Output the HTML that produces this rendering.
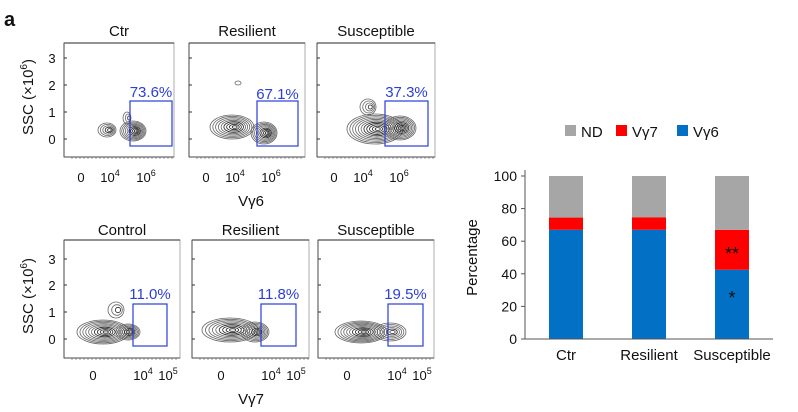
<!DOCTYPE html>
<html><head><meta charset="utf-8"><style>
html,body{margin:0;padding:0;background:#fff;width:798px;height:412px;overflow:hidden}
svg{display:block;font-family:"Liberation Sans",sans-serif}
</style></head><body>
<svg id="fig" width="798" height="412" viewBox="0 0 798 412">
<text x="4" y="26" font-size="20" font-weight="bold" fill="#111">a</text>
<g id="flow"></g>
<g id="bars"></g>
</svg>
<script>
// Stacked bar chart data
const categories = ["Ctr", "Resilient", "Susceptible"];
const vg6Values = [67, 67, 42.5];
const vg7Values = [7.5, 7.7, 24.5];
const ndValues = [25.5, 25.3, 33];
const yTicks = [0, 20, 40, 60, 80, 100];

const NS = "http://www.w3.org/2000/svg";
function mk(tag, attrs, parent, text){
  const e = document.createElementNS(NS, tag);
  for (const k in attrs) e.setAttribute(k, attrs[k]);
  if (text !== undefined) e.textContent = text;
  parent.appendChild(e);
  return e;
}

// ---------- Flow plots ----------
const flow = document.getElementById("flow");
const rows = [
  {top:43,bottom:157,title:30,tickY:182,axisLabel:"Vγ6",axisY:206,yt:[58,85,112,139],
   panels:[
    {x0:64,x1:174,title:"Ctr",gate:[130,101,172,146],pct:"73.6%",py:97,
     blobs:[[107,130,9,7,5],[133,131,13,10,9],[127,118,4,6,3]]},
    {x0:189,x1:305,title:"Resilient",gate:[257,101,298,146],pct:"67.1%",py:99,
     blobs:[[232,127,22,12,9],[264,133,13,11,9],[238,83,3,2,1]]},
    {x0:317,x1:435,title:"Susceptible",gate:[385,101,428,146],pct:"37.3%",py:97,
     blobs:[[375,129,28,15,11],[400,128,16,12,9],[368,107,8,8,4]]}
   ],
   ticks:[[81,"0",""],[110,"10","4"],[146,"10","6"]]},
  {top:240,bottom:358,title:229,tickY:380,axisLabel:"Vγ7",axisY:404,yt:[259,285,312,339],
   panels:[
    {x0:64,x1:180,title:"Control",gate:[133,304,167,346],pct:"11.0%",py:299,
     blobs:[[103,332,26,12,10],[128,332,12,8,7],[116,310,8,8,3]]},
    {x0:192,x1:309,title:"Resilient",gate:[261,304,296,346],pct:"11.8%",py:299,
     blobs:[[230,330,28,12,9],[255,332,14,10,8]]},
    {x0:318,x1:434,title:"Susceptible",gate:[388,304,423,346],pct:"19.5%",py:299,
     blobs:[[361,332,26,11,10],[390,332,16,9,6]]}
   ],
   ticks:[[93,"0",""],[143,"10","4"],[168,"10","5"]]}
];
rows.forEach((r,ri)=>{
  r.panels.forEach((p,pi)=>{
    const g = mk("g",{},flow);
    
    
    mk("rect",{x:p.x0,y:r.top,width:p.x1-p.x0,height:r.bottom-r.top,fill:"#fff",stroke:"#bbb","stroke-width":1.2},g);
    mk("line",{x1:p.x0,y1:r.top,x2:p.x1,y2:r.top,stroke:"#333","stroke-width":1},g);
    mk("line",{x1:p.x0,y1:r.top,x2:p.x0,y2:r.bottom,stroke:"#555","stroke-width":1},g);
    mk("line",{x1:p.x0,y1:r.bottom,x2:p.x1,y2:r.bottom,stroke:"#555","stroke-width":1},g);
    const t = mk("text",{x:(p.x0+p.x1)/2,y:r.title+6,"font-size":15,"text-anchor":"middle",fill:"#111"},g,p.title);
    
    
    r.yt.forEach(y=>mk("line",{x1:p.x0,y1:y,x2:p.x0+3,y2:y,stroke:"#333"},g));
    for(let x=p.x0+8;x<p.x1;x+=4) mk("line",{x1:x,y1:r.bottom,x2:x,y2:r.bottom+2,stroke:"#555","stroke-width":0.6},g);
    p.blobs.forEach(b=>{
      for(let k=0;k<b[4];k++){
        const f=1-k/b[4];
        mk("ellipse",{cx:b[0]+(1-f)*3,cy:b[1],rx:Math.max(1,b[2]*f),ry:Math.max(1,b[3]*f),fill:"none",stroke:k>b[4]*0.5?"#222":"#666","stroke-width":0.8},g);
      }
    });
    const gate = mk("rect",{x:p.gate[0],y:p.gate[1],width:p.gate[2]-p.gate[0],height:p.gate[3]-p.gate[1],fill:"none",stroke:"#2a3ed8","stroke-width":1.2},g);
    
    
    const pc = mk("text",{x:(p.gate[0]+p.gate[2])/2,y:p.py,"font-size":15,"text-anchor":"middle",fill:"#2a3ed8"},g,p.pct);
    
    
    r.ticks.forEach(tk=>{
      const xt = p.x0 + (tk[0]-64);
      const tt = mk("text",{x:xt,y:r.tickY,"font-size":13,"text-anchor":"middle",fill:"#111"},g);
      
      
      if(tk[2]) tt.innerHTML = tk[1]+'<tspan dy="-6" font-size="9">'+tk[2]+'</tspan>';
      else tt.textContent = tk[1];
    });
  });
  ["3","2","1","0"].forEach((s,i)=>{
    const tt = mk("text",{x:52,y:r.yt[i]+5,"font-size":13,"text-anchor":"middle",fill:"#111"},flow,s);
    
    
  });
  const yl = mk("text",{x:0,y:0,"font-size":15,"text-anchor":"middle",fill:"#111",transform:`translate(33,${(r.top+r.bottom)/2-3}) rotate(-90)`},flow);
  
  
  yl.innerHTML = 'SSC (×10<tspan dy="-6" font-size="10">6</tspan><tspan dy="6">)</tspan>';
  const xl = mk("text",{x:251,y:r.axisY,"font-size":15,"text-anchor":"middle",fill:"#111"},flow,r.axisLabel);
  
  
});

// ---------- Bar chart ----------
const bars = document.getElementById("bars");
const axX = 525, axRight = 773, y0px = 339, y100px = 176;
const yScale = v => y0px - (v/100)*(y0px-y100px);
const barLeft = [549, 632, 715], barW = 34;
const xScale = i => barLeft[0] + i*(barLeft[1]-barLeft[0]);
const colors = {vg6:"#0270c4", vg7:"#fe0000", nd:"#a6a6a6"};

categories.forEach((c,i)=>{
  const x = xScale(i);
  let base = 0;
  [["vg6",vg6Values[i]],["vg7",vg7Values[i]],["nd",ndValues[i]]].forEach(([k,v])=>{
    const r = mk("rect",{x:x,y:yScale(base+v),width:barW,height:yScale(base)-yScale(base+v),fill:colors[k]},bars);
    
    
    base += v;
  });
  const lab = mk("text",{x:x+barW/2,y:360,"font-size":15,"text-anchor":"middle",fill:"#111"},bars,c);
  
  
});
const sx = xScale(2)+barW/2;
const s1 = mk("text",{x:sx,y:yScale(vg6Values[2]+vg7Values[2]/2)+10,"font-size":18,"text-anchor":"middle",fill:"#111"},bars,"**");


const s2 = mk("text",{x:sx,y:yScale(vg6Values[2]/2+5)+8,"font-size":18,"text-anchor":"middle",fill:"#111"},bars,"*");



mk("line",{x1:axX,y1:y100px-6,x2:axX,y2:y0px,stroke:"#555","stroke-width":1},bars);
mk("line",{x1:axX,y1:y0px,x2:axRight,y2:y0px,stroke:"#555","stroke-width":1},bars);
yTicks.forEach(v=>{
  const y = yScale(v);
  mk("line",{x1:axX-4,y1:y,x2:axX,y2:y,stroke:"#555"},bars);
  const t = mk("text",{x:axX-8,y:y+5,"font-size":14,"text-anchor":"end",fill:"#111"},bars,String(v));
  
  
});
const yt = mk("text",{x:0,y:0,"font-size":15,"text-anchor":"middle",fill:"#111",transform:`translate(477,${(y0px+y100px)/2}) rotate(-90)`},bars,"Percentage");



const legend = [["ND",colors.nd,565],["Vγ7",colors.vg7,616],["Vγ6",colors.vg6,677]];
legend.forEach(([n,c,x])=>{
  const g = mk("g",{},bars);
  
  
  mk("rect",{x:x,y:125,width:11,height:11,fill:c},g);
  mk("text",{x:x+16,y:137,"font-size":15,fill:"#111"},g,n);
});
</script>
</body></html>
